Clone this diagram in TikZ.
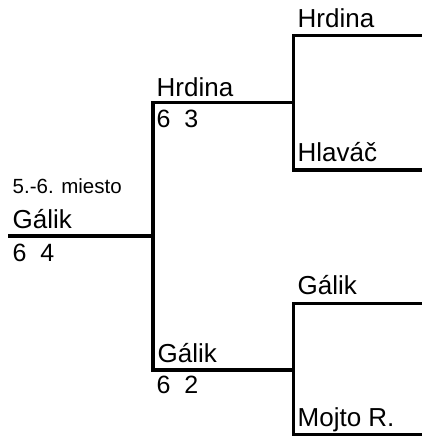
\documentclass[tikz,border=0pt]{standalone}
\usepackage{fontspec}
\setmainfont{Liberation Sans}
\tikzset{
  player/.style={anchor=base west, inner sep=0pt, font=\fontsize{26}{28}\selectfont},
  score/.style={anchor=base west, inner sep=0pt, font=\fontsize{25}{28}\selectfont},
  note/.style={anchor=base west, inner sep=0pt, font=\fontsize{20.5}{23}\selectfont},
  bracket/.style={line width=3.6pt, line cap=rect}
}
\begin{document}
\begin{tikzpicture}[x=1pt,y=-1pt]
  \useasboundingbox (0,0) rectangle (421,437);
  % slot ends
  \coordinate (f0) at (10,236);
  \coordinate (f1) at (153,236);
  \coordinate (s0) at (153,102.5);
  \coordinate (s1) at (293.5,102.5);
  \coordinate (s2) at (153,370);
  \coordinate (s3) at (293.5,370);
  \coordinate (q0) at (293.5,35.5);
  \coordinate (q1) at (421,35.5);
  \coordinate (q2) at (293.5,170);
  \coordinate (q3) at (421,170);
  \coordinate (q4) at (293.5,303.5);
  \coordinate (q5) at (421,303.5);
  \coordinate (q6) at (293.5,434.5);
  \coordinate (q7) at (421,434.5);
  % labels
  \node[note] (place) at (12.5,193) {5.-6. miesto};
  \node[player] (fin) at (12.5,228.5) {Gálik};
  \node[score] (finsc) at (12.5,261) {6\ \ 4};
  \node[player] (semi1) at (156.5,96) {Hrdina};
  \node[score] (semi1sc) at (156.5,127) {6\ \ 3};
  \node[player] (semi2) at (157.5,362) {Gálik};
  \node[score] (semi2sc) at (156.5,393) {6\ \ 2};
  \node[player] (qf1) at (297.5,27) {Hrdina};
  \node[player] (qf2) at (297.5,161) {Hlaváč};
  \node[player] (qf3) at (297.5,294) {Gálik};
  \node[player] (qf4) at (297.5,426) {Mojto R.};
  \begin{scope}[bracket]
    \draw (f0) -- (f1);
    \draw (s0) -- (s2);
    \draw (s0) -- (s1);
    \draw (s2) -- (s3);
    \draw (q1) -- (q0) -- (q2) -- (q3);
    \draw (q5) -- (q4) -- (q6) -- (q7);
  \end{scope}
\end{tikzpicture}
\end{document}
